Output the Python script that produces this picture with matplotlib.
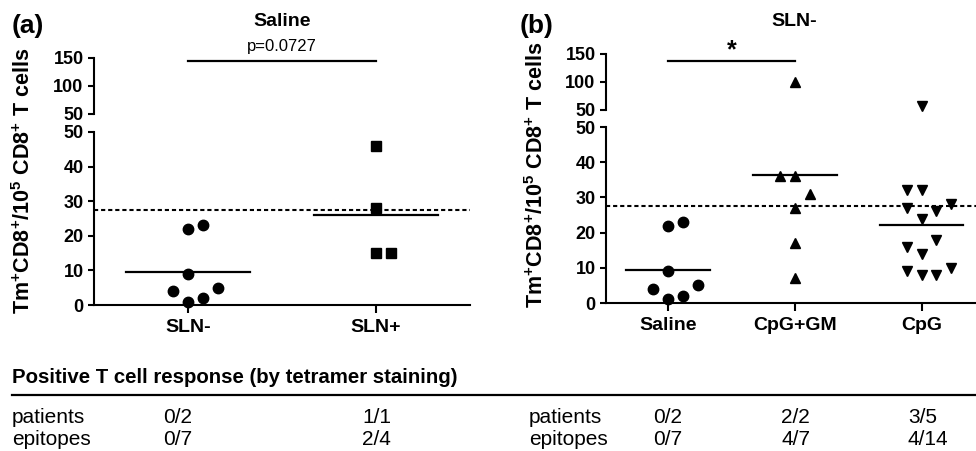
import matplotlib
matplotlib.use("Agg")
import matplotlib.pyplot as plt
import numpy as np

plt.rcParams["font.family"] = ["Liberation Sans", "DejaVu Sans"]
plt.rcParams["font.weight"] = "bold"
plt.rcParams["mathtext.fontset"] = "custom"
plt.rcParams["mathtext.rm"] = "Liberation Sans"
plt.rcParams["mathtext.bf"] = "Liberation Sans:bold"

# ---- data ----
cats_a = ["SLN-", "SLN+"]
cats_b = ["Saline", "CpG+GM", "CpG"]

saline_vals = [22, 23, 9, 4, 5, 1, 2]
saline_slots = [0, 1, 0, -1, 2, 0, 1]
slnpos_vals = [46, 28, 15, 15]
slnpos_slots = [0, 0, 0, 1]
cpggm_vals = [100, 36, 36, 31, 27, 17, 7]
cpggm_slots = [0, -1, 0, 1, 0, 0, 0]
cpg_vals = [58, 32, 32, 27, 26, 28, 24, 18, 16, 14, 9, 8, 8, 10]
cpg_slots = [0, -1, 0, -1, 1, 2, 0, 1, -1, 0, -1, 0, 1, 2]

cutoff = 27.5
p_text_a = "p=0.0727"
sig_text_b = "*"
sig_a = (0, 1, 145)
sig_b = (0, 1, 137)

table_title = "Positive T cell response (by tetramer staining)"
row_labels = ["patients", "epitopes"]
patients_a = ["0/2", "1/1"]
epitopes_a = ["0/7", "2/4"]
patients_b = ["0/2", "2/2", "3/5"]
epitopes_b = ["0/7", "4/7", "4/14"]

ylabel = r"Tm$^{\mathbf{+}}$CD8$^{\mathbf{+}}$/10$^{\mathbf{5}}$ CD8$^{\mathbf{+}}$ T cells"

W, H = 976, 451
fig = plt.figure(figsize=(W / 100, H / 100), dpi=100)


def px_axes(left, top, right, bottom):
    return fig.add_axes([left / W, 1 - bottom / H, (right - left) / W, (bottom - top) / H])


def style_axes(ax_lo, ax_up, cats, xlim):
    for ax in (ax_lo, ax_up):
        ax.set_xlim(*xlim)
        for s in ("top", "right"):
            ax.spines[s].set_visible(False)
        ax.spines["left"].set_linewidth(1.5)
        ax.spines["bottom"].set_linewidth(1.5)
        ax.tick_params(axis="both", which="major", direction="out", length=4.5,
                       width=1.5, labelsize=13, pad=3)
        ax.tick_params(axis="y", which="minor", direction="inout", length=8, width=1.5)
        ax.patch.set_alpha(0)
    ax_lo.set_ylim(0, 50)
    ax_lo.set_yticks([0, 10, 20, 30, 40, 50])
    ax_lo.set_yticks([50], minor=True)
    ax_lo.set_xticks(range(len(cats)))
    ax_lo.set_xticklabels(cats)
    ax_lo.tick_params(axis="x", length=6, labelsize=14, pad=4)
    ax_up.set_ylim(50, 150)
    ax_up.set_yticks([50, 100, 150])
    ax_up.set_yticks([50], minor=True)
    ax_up.spines["bottom"].set_visible(False)
    ax_up.set_xticks([])
    for lab in ax_lo.get_yticklabels() + ax_up.get_yticklabels() + ax_lo.get_xticklabels():
        lab.set_fontweight("bold")


def draw_group(ax_lo, ax_up, x, vals, slots, marker, ms, step):
    vals = np.array(vals, dtype=float)
    xs = x + np.array(slots) * step
    lo = vals <= 50
    ax_lo.plot(xs[lo], vals[lo], linestyle="none", marker=marker, ms=ms,
               color="black", clip_on=False, zorder=5)
    if (~lo).any():
        ax_up.plot(xs[~lo], vals[~lo], linestyle="none", marker=marker, ms=ms,
                   color="black", clip_on=False, zorder=5)
    m = vals.mean()
    ax_lo.plot([x - 0.33, x + 0.33], [m, m], color="black", lw=1.6, zorder=4)


def sig_bar(ax, bar, text, size, weight, offset):
    x0, x1, y = bar
    ax.plot([x0, x1], [y, y], color="black", lw=1.6, clip_on=False)
    ax.annotate(text, xy=((x0 + x1) / 2, y), xytext=(0, offset), textcoords="offset points",
                ha="center", va="center", fontsize=size, fontweight=weight,
                annotation_clip=False)


# ---- panel (a) ----
a_lo = px_axes(94, 132, 470, 305)
a_up = px_axes(94, 58, 470, 114)
style_axes(a_lo, a_up, cats_a, (-0.5, 1.5))
step_a = 15 / 188
draw_group(a_lo, a_up, 0, saline_vals, saline_slots, "o", 7.5, step_a)
draw_group(a_lo, a_up, 1, slnpos_vals, slnpos_slots, "s", 6.5, step_a)
a_lo.axhline(cutoff, color="black", lw=1.5, linestyle=(0, (2, 1.4)))
sig_bar(a_up, sig_a, p_text_a, 12, "normal", 10)

# ---- panel (b) ----
b_lo = px_axes(606, 127, 976, 303)
b_up = px_axes(606, 54, 976, 110)
style_axes(b_lo, b_up, cats_b, (-0.49, 2.43))
step_b = 15 / 127
draw_group(b_lo, b_up, 0, saline_vals, saline_slots, "o", 7.5, step_b)
draw_group(b_lo, b_up, 1, cpggm_vals, cpggm_slots, "^", 7.5, step_b)
draw_group(b_lo, b_up, 2, cpg_vals, cpg_slots, "v", 7.5, step_b)
b_lo.axhline(cutoff, color="black", lw=1.5, linestyle=(0, (2, 1.4)))
sig_bar(b_up, sig_b, sig_text_b, 18, "bold", 8)

# ---- titles, panel letters, y labels ----
fig.text(282 / W, 1 - 21 / H, "Saline", ha="center", va="center", fontsize=14)
fig.text(794 / W, 1 - 22 / H, "SLN-", ha="center", va="center", fontsize=14)
fig.text(12 / W, 1 - 26 / H, "(a)", ha="left", va="center", fontsize=19)
fig.text(520 / W, 1 - 26 / H, "(b)", ha="left", va="center", fontsize=19)
fig.text(24 / W, 1 - 181 / H, ylabel, rotation=90, ha="center", va="center", fontsize=15.5)
fig.text(537 / W, 1 - 175 / H, ylabel, rotation=90, ha="center", va="center", fontsize=15.5)

# ---- table below ----
fig.text(12 / W, 1 - 383 / H, table_title, ha="left", va="baseline", fontsize=14.7)
fig.add_artist(plt.Line2D([12 / W, 1], [1 - 395 / H, 1 - 395 / H], color="black", lw=1.6))
row_base = [423, 445]
cols_a = [163, 362]
cols_b = [653, 781, 908]
for r, (lab, va, vb) in enumerate(zip(row_labels, [patients_a, epitopes_a], [patients_b, epitopes_b])):
    yb = 1 - row_base[r] / H
    fig.text(12 / W, yb, lab, ha="left", va="baseline", fontsize=15, fontweight="normal")
    fig.text(529 / W, yb, lab, ha="left", va="baseline", fontsize=15, fontweight="normal")
    for cx, t in zip(cols_a, va):
        fig.text(cx / W, yb, t, ha="left", va="baseline", fontsize=15, fontweight="normal")
    for cx, t in zip(cols_b, vb):
        fig.text(cx / W, yb, t, ha="left", va="baseline", fontsize=15, fontweight="normal")

fig.savefig("out.png", dpi=100)
